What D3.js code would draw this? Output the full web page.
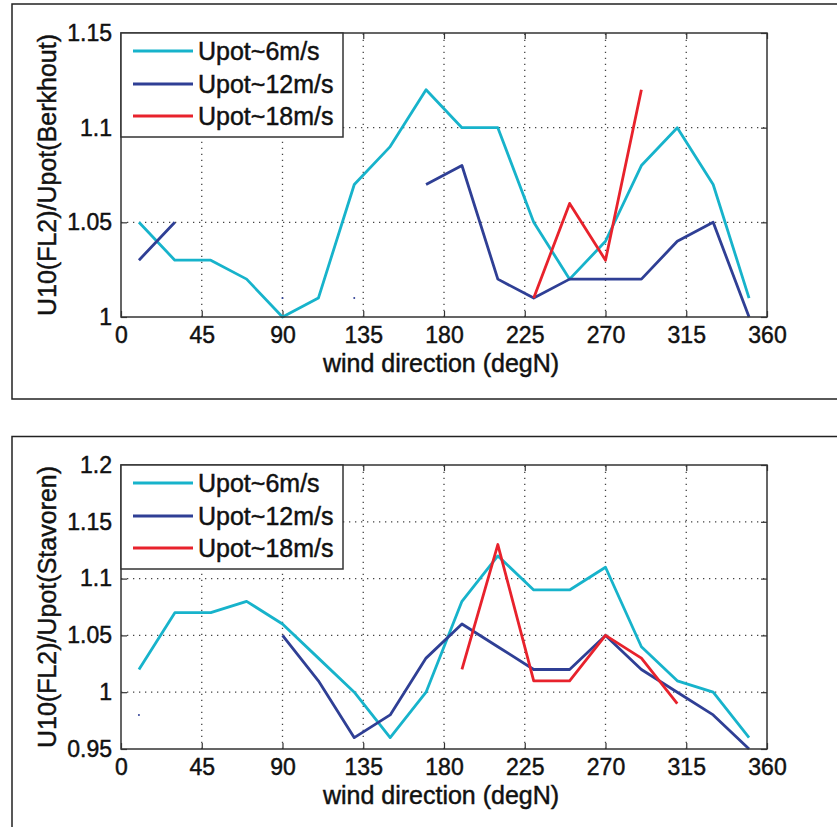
<!DOCTYPE html>
<html>
<head>
<meta charset="utf-8">
<script src="https://cdn.jsdelivr.net/npm/d3@7"></script>
<style>
  body { margin: 0; background: #fff; }
  svg { display: block; }
  text { font-family: "Liberation Sans", Arial, sans-serif; fill: #111; stroke: #111; stroke-width: 0.45px; }
</style>
</head>
<body>
<svg id="chart" width="837" height="827"></svg>
<script>
// ---- data ----
const directions = [10, 30, 50, 70, 90, 110, 130, 150, 170, 190, 210, 230, 250, 270, 290, 310, 330, 350];
const seriesNames = ["Upot~6m/s", "Upot~12m/s", "Upot~18m/s"];
const seriesColors = ["#17b3cb", "#2f3f95", "#e8222c"];
const xTicks = [0, 45, 90, 135, 180, 225, 270, 315, 360];

// top panel: U10(FL2)/Upot(Berkhout)
const berkhout6  = [1.05, 1.03, 1.03, 1.02, 1.00, 1.01, 1.07, 1.09, 1.12, 1.10, 1.10, 1.05, 1.02, 1.04, 1.08, 1.10, 1.07, 1.01];
const berkhout12 = [1.03, 1.05, null, null, 1.01, null, 1.01, null, 1.07, 1.08, 1.02, 1.01, 1.02, 1.02, 1.02, 1.04, 1.05, 1.00];
const berkhout18 = [null, null, null, null, null, null, null, null, null, null, null, 1.01, 1.06, 1.03, 1.12, null, null, null];
const berkhoutYTicks = [1, 1.05, 1.1, 1.15];

// bottom panel: U10(FL2)/Upot(Stavoren)
const stavoren6  = [1.02, 1.07, 1.07, 1.08, 1.06, 1.03, 1.00, 0.96, 1.00, 1.08, 1.12, 1.09, 1.09, 1.11, 1.04, 1.01, 1.00, 0.96];
const stavoren12 = [0.98, null, null, null, 1.05, 1.01, 0.96, 0.98, 1.03, 1.06, 1.04, 1.02, 1.02, 1.05, 1.02, 1.00, 0.98, 0.95];
const stavoren18 = [null, null, null, null, null, null, null, null, null, 1.02, 1.13, 1.01, 1.01, 1.05, 1.03, 0.99, null, null];
const stavorenYTicks = [0.95, 1, 1.05, 1.1, 1.15, 1.2];

const svg = d3.select("#chart");

function panel(cfg) {
  const g = svg.append("g");
  // outer frame
  g.append("rect").attr("x", cfg.frame[0]).attr("y", cfg.frame[1])
    .attr("width", cfg.frame[2]).attr("height", cfg.frame[3])
    .attr("fill", "none").attr("stroke", "#222").attr("stroke-width", 1.5);

  const L = 121, R = 767, T = cfg.top, B = cfg.top + 284;
  const x = d3.scaleLinear().domain([0, 360]).range([L, R]);
  const y = d3.scaleLinear().domain(cfg.yDomain).range([B, T]);

  // grid (dotted)
  const grid = g.append("g").attr("stroke", "#444").attr("stroke-width", 1.3)
    .attr("stroke-dasharray", "1.3,4.7");
  grid.selectAll("line.vx").data(xTicks.slice(1, -1)).join("line")
    .attr("x1", d => x(d)).attr("x2", d => x(d)).attr("y1", B).attr("y2", T);
  grid.selectAll("line.hy").data(cfg.yTicks.slice(1, -1)).join("line")
    .attr("y1", d => y(d)).attr("y2", d => y(d)).attr("x1", L).attr("x2", R);

  // axes via d3 axis generators
  const tickFmt = d => String(+d.toFixed(2));
  const xAxis = g.append("g").attr("transform", `translate(0,${B})`)
    .call(d3.axisBottom(x).tickValues(xTicks).tickSize(-6).tickPadding(10).tickFormat(d3.format("d")));
  const xAxisTop = g.append("g").attr("transform", `translate(0,${T})`)
    .call(d3.axisTop(x).tickValues(xTicks).tickSize(-6).tickFormat(""));
  const yAxis = g.append("g").attr("transform", `translate(${L},0)`)
    .call(d3.axisLeft(y).tickValues(cfg.yTicks).tickSize(-6).tickPadding(9).tickFormat(tickFmt));
  const yAxisR = g.append("g").attr("transform", `translate(${R},0)`)
    .call(d3.axisRight(y).tickValues(cfg.yTicks).tickSize(-6).tickFormat(""));
  [xAxis, xAxisTop, yAxis, yAxisR].forEach(a => {
    a.select(".domain").remove();
    a.selectAll(".tick line").attr("stroke", "#333").attr("stroke-width", 1.2);
  });
  [xAxis, yAxis].forEach(a => a.selectAll(".tick text")
    .attr("font-size", 23).attr("fill", "#111")
    .attr("font-family", "'Liberation Sans', Arial, sans-serif"));

  // series lines
  const line = d3.line().defined(d => d.v !== null).x(d => x(d.dir)).y(d => y(d.v));
  cfg.series.forEach((vals, i) => {
    const pts = directions.map((dir, k) => ({ dir, v: vals[k] }));
    g.append("path").datum(pts).attr("d", line)
      .attr("fill", "none").attr("stroke", seriesColors[i]).attr("stroke-width", 2.8)
      .attr("stroke-linejoin", "round");
    // isolated points (no neighbours) drawn as tiny dots
    pts.forEach((p, k) => {
      if (p.v === null) return;
      const prev = k > 0 ? vals[k - 1] : null, next = k < vals.length - 1 ? vals[k + 1] : null;
      if (prev === null && next === null) {
        g.append("circle").attr("cx", x(p.dir)).attr("cy", y(p.v)).attr("r", 1)
          .attr("fill", seriesColors[i]);
      }
    });
  });

  // plot box
  g.append("rect").attr("x", L).attr("y", T).attr("width", R - L).attr("height", B - T)
    .attr("fill", "none").attr("stroke", "#333").attr("stroke-width", 1.5);

  // legend
  const lg = g.append("g");
  lg.append("rect").attr("x", L).attr("y", T).attr("width", 222).attr("height", 104)
    .attr("fill", "#fff").attr("stroke", "#333").attr("stroke-width", 1.5);
  const rowY = [T + 18, T + 51, T + 83];
  seriesNames.forEach((name, i) => {
    lg.append("line").attr("x1", 133).attr("x2", 193).attr("y1", rowY[i]).attr("y2", rowY[i])
      .attr("stroke", seriesColors[i]).attr("stroke-width", 3);
    lg.append("text").attr("x", 198).attr("y", rowY[i] + 8.5).attr("font-size", 25).text(name);
  });

  // axis labels
  g.append("text").attr("x", (L + R) / 2 - 3).attr("y", B + 55).attr("text-anchor", "middle")
    .attr("font-size", 25).text("wind direction (degN)");
  g.append("text").attr("transform", `translate(56,${(T + B) / 2}) rotate(-90)`)
    .attr("text-anchor", "middle").attr("font-size", 25).text(cfg.yLabel);
}

panel({
  frame: [12, 4, 840, 395], top: 33, yDomain: [1, 1.15], yTicks: berkhoutYTicks,
  series: [berkhout6, berkhout12, berkhout18], yLabel: "U10(FL2)/Upot(Berkhout)"
});
panel({
  frame: [12, 436.5, 840, 400], top: 465, yDomain: [0.95, 1.2], yTicks: stavorenYTicks,
  series: [stavoren6, stavoren12, stavoren18], yLabel: "U10(FL2)/Upot(Stavoren)"
});
</script>
</body>
</html>
